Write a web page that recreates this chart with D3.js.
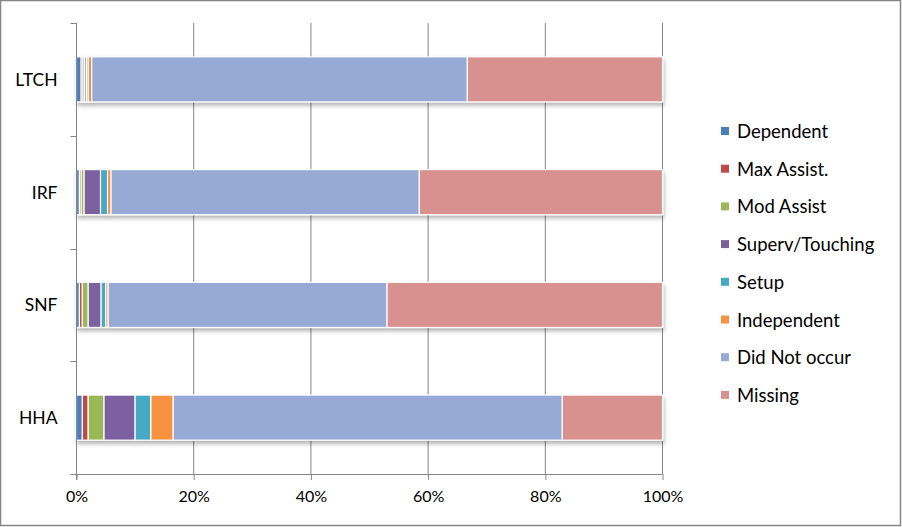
<!DOCTYPE html>
<html>
<head>
<meta charset="utf-8">
<script src="https://cdn.jsdelivr.net/npm/d3@7"></script>
<style>
html,body{margin:0;padding:0;background:#fff;}
svg{display:block;}
text{font-family:Lato,"Open Sans",sans-serif;fill:#000;}
</style>
</head>
<body>
<svg id="chart" width="902" height="527"></svg>
<script>
const categories = ["LTCH", "IRF", "SNF", "HHA"];
const seriesNames = ["Dependent", "Max Assist.", "Mod Assist", "Superv/Touching", "Setup", "Independent", "Did Not occur", "Missing"];
const seriesColors = ["#4A7EBB", "#BE4B48", "#98B954", "#7D60A0", "#46AAC5", "#F69240", "#97AAD5", "#D8918F"];
// percent values per series, in category order [LTCH, IRF, SNF, HHA]
const dependent   = [0.8, 0.5, 0.5, 1.0];
const maxAssist   = [0.3, 0.3, 0.5, 1.0];
const modAssist   = [0.3, 0.5, 1.0, 2.7];
const supervTouch = [0.3, 2.8, 2.2, 5.3];
const setup       = [0.3, 1.2, 0.8, 2.7];
const independent = [0.6, 0.6, 0.4, 3.8];
const didNotOccur = [64.1, 52.6, 47.6, 66.4];
const missing     = [33.3, 41.5, 47.0, 17.1];
const xTicks = [0, 20, 40, 60, 80, 100];
const xTickLabels = ["0%", "20%", "40%", "60%", "80%", "100%"];

const seriesValues = [dependent, maxAssist, modAssist, supervTouch, setup, independent, didNotOccur, missing];

const svg = d3.select("#chart");
const W = 902, H = 527;

// outer frame
svg.append("rect").attr("x", 0.5).attr("y", 0.5).attr("width", W - 2).attr("height", H - 2)
  .attr("fill", "#fff").attr("stroke", "#868686").attr("stroke-width", 1.5);

const plot = {left: 76.5, right: 662.5, top: 23, bottom: 474};

const x = d3.scaleLinear().domain([0, 100]).range([plot.left, plot.right]);
const y = d3.scaleBand().domain(categories).range([plot.top, plot.bottom]).paddingInner(0.6).paddingOuter(0.3);
const yb = d3.scaleBand().domain(categories).range([plot.top, plot.bottom]);

// shadow filter
const defs = svg.append("defs");
const f = defs.append("filter").attr("id", "shadow").attr("x", "-5%").attr("y", "-20%").attr("width", "110%").attr("height", "160%");
f.append("feDropShadow").attr("dx", 1).attr("dy", 3).attr("stdDeviation", 2).attr("flood-color", "#000").attr("flood-opacity", 0.3);

// gridlines
svg.append("g").selectAll("line").data(xTicks.filter(d => d > 0)).join("line")
  .attr("x1", d => x(d)).attr("x2", d => x(d))
  .attr("y1", plot.top).attr("y2", plot.bottom)
  .attr("stroke", "#868686").attr("stroke-width", 1);

// stacked data
const rows = categories.map((c, i) => {
  const r = {cat: c};
  seriesNames.forEach((s, j) => r[s] = seriesValues[j][i]);
  return r;
});
const stack = d3.stack().keys(seriesNames)(rows);

const barsG = svg.append("g").attr("filter", "url(#shadow)");
stack.forEach((layer, j) => {
  barsG.append("g").selectAll("rect").data(layer).join("rect")
    .attr("x", d => x(d[0]))
    .attr("width", d => Math.max(0, x(d[1]) - x(d[0])))
    .attr("y", d => y(d.data.cat))
    .attr("height", y.bandwidth())
    .attr("fill", seriesColors[j])
    .attr("stroke", "#fff").attr("stroke-width", 1.2);
});

// x axis
const xAxis = d3.axisBottom(x).tickValues(xTicks).tickFormat((d, i) => xTickLabels[i]).tickSize(6).tickPadding(11);
const gx = svg.append("g").attr("transform", `translate(0,${plot.bottom})`).call(xAxis);
gx.select(".domain").attr("stroke", "#868686").attr("d", `M${plot.left - 6},0.5H${plot.right}`);
gx.selectAll(".tick line").attr("stroke", "#868686");
gx.selectAll("text").attr("font-size", 16).attr("font-family", "Lato").attr("fill", "#000");

// y axis
const ya = svg.append("g");
ya.append("line").attr("x1", plot.left).attr("x2", plot.left).attr("y1", plot.top).attr("y2", plot.bottom + 6)
  .attr("stroke", "#868686");
const boundaries = categories.map(c => yb(c)).concat([plot.bottom]);
ya.selectAll("line.t").data(boundaries).join("line").attr("class", "t")
  .attr("x1", plot.left - 6).attr("x2", plot.left).attr("y1", d => Math.round(d) + 0.5).attr("y2", d => Math.round(d) + 0.5)
  .attr("stroke", "#868686");
ya.selectAll("text").data(categories).join("text")
  .attr("x", plot.left - 19).attr("y", d => yb(d) + yb.bandwidth() / 2)
  .attr("text-anchor", "end").attr("dominant-baseline", "central")
  .attr("font-size", 17.5).text(d => d);

// legend
const legend = svg.append("g");
const legY0 = 131, legStep = 37.7;
seriesNames.forEach((s, j) => {
  const g = legend.append("g").attr("transform", `translate(721,${legY0 + j * legStep})`);
  g.append("rect").attr("x", 0).attr("y", -4).attr("width", 8).attr("height", 8).attr("fill", seriesColors[j]);
  g.append("text").attr("x", 16).attr("y", 0).attr("dominant-baseline", "central").attr("font-size", 18.5).text(s);
});
</script>
</body>
</html>
